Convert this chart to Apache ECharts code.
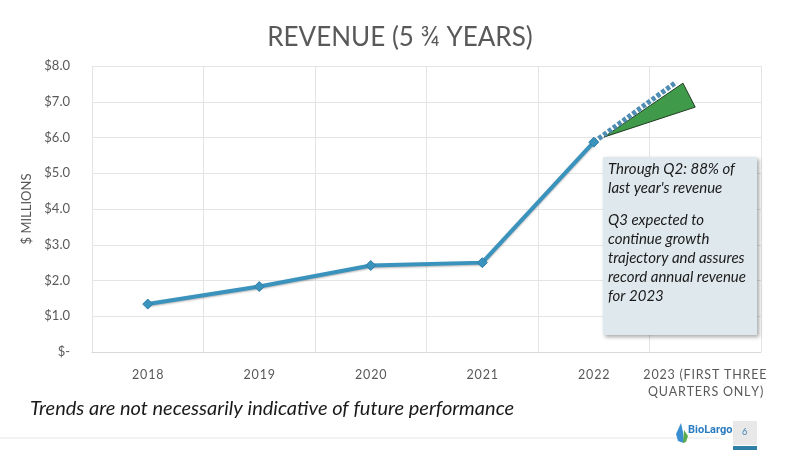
<!DOCTYPE html>
<html>
<head>
<meta charset="utf-8">
<script src="https://cdn.jsdelivr.net/npm/echarts@6/dist/echarts.min.js"></script>
<style>
  html, body { margin: 0; padding: 0; background: #ffffff; }
  #chart { width: 800px; height: 450px; }
</style>
</head>
<body>
<div id="chart"></div>
<script>
// categories and values ($ millions)
const years = ['2018', '2019', '2020', '2021', '2022', '2023 (FIRST THREE\nQUARTERS ONLY)'];
const revenue = [1.34, 1.83, 2.42, 2.50, 5.87];
// projection: dotted line from 2022 into 2023 (x in category index units)
const projection = [[4, 5.87], [4.74, 7.55]];
// green wedge of the projected range
const wedge = [[4.09, 6.01], [4.80, 7.52], [4.91, 6.85]];
const yTicks = [0, 1, 2, 3, 4, 5, 6, 7, 8];

const noteTop = ['Through Q2: 88% of', "last year's revenue"];
const noteBottom = ['Q3 expected to', 'continue growth', 'trajectory and assures', 'record annual revenue', 'for 2023'];

let chart = echarts.init(document.getElementById('chart'));

const labelColor = '#595959';
const lineColor = '#3a93bd';

const option = {
    animation: false,
    title: {
        text: 'REVENUE (5 ¾ YEARS)',
        left: 'center',
        top: 20,
        textStyle: { fontFamily: 'Lato', fontWeight: 'normal', fontSize: 26, color: '#595959' }
    },
    grid: { left: 92, right: 39, top: 66, bottom: 98 },
    xAxis: [{
        type: 'category',
        data: years,
        boundaryGap: true,
        axisLine: { lineStyle: { color: '#d9d9d9' } },
        axisTick: { show: false },
        splitLine: { show: true, lineStyle: { color: '#e4e4e4' } },
        axisLabel: {
            color: labelColor, fontFamily: 'Lato', fontSize: 12.5, margin: 14, lineHeight: 17,
            interval: 0,
            formatter: function (v) { return v.split('').join('\u200A'); }
        }
    }, {
        type: 'value',
        min: -0.5,
        max: 5.5,
        show: false
    }],
    yAxis: {
        type: 'value',
        min: 0,
        max: 8,
        interval: 1,
        name: '$ MILLIONS',
        nameLocation: 'middle',
        nameGap: 42,
        nameTextStyle: { color: labelColor, fontFamily: 'Lato', fontSize: 13 },
        axisLine: { show: false },
        axisTick: { show: false },
        splitLine: { lineStyle: { color: '#e4e4e4' } },
        axisLabel: {
            color: labelColor, fontFamily: 'Lato', fontSize: 13, margin: 22,
            formatter: function (v) { return v === 0 ? '$-' : '$' + v.toFixed(1); }
        }
    },
    series: [{
        type: 'custom',
        xAxisIndex: 1,
        renderItem: function (params, api) {
            let pts = wedge.map(function (p) { return api.coord(p); });
            return {
                type: 'polygon',
                shape: { points: pts },
                style: { fill: '#3f9a4a', stroke: '#1f3b22', lineWidth: 1 }
            };
        },
        data: [0],
        z: 2
    }, {
        type: 'line',
        xAxisIndex: 1,
        data: projection,
        symbol: 'none',
        lineStyle: { color: '#4f8db3', width: 5, type: [4, 2] },
        z: 3
    }, {
        type: 'line',
        data: revenue,
        symbol: 'diamond',
        symbolSize: 10,
        lineStyle: { color: lineColor, width: 4, shadowColor: 'rgba(0,0,0,0.3)', shadowBlur: 2, shadowOffsetY: 1 },
        itemStyle: { color: lineColor, borderColor: '#2f7ea6', borderWidth: 1 },
        z: 4
    }],
    graphic: [{
        type: 'rect',
        shape: { x: 603, y: 157, width: 154, height: 178 },
        style: { fill: '#dfe8ec', shadowColor: 'rgba(0,0,0,0.35)', shadowBlur: 4, shadowOffsetX: 2, shadowOffsetY: 2 },
        z: 10
    }, {
        type: 'text',
        left: 608, top: 160,
        style: { text: noteTop.join('\n'), font: 'italic 15px Lato', fill: '#1a1a1a', lineHeight: 19 },
        z: 11
    }, {
        type: 'text',
        left: 608, top: 211,
        style: { text: noteBottom.join('\n'), font: 'italic 15px Lato', fill: '#1a1a1a', lineHeight: 19 },
        z: 11
    }, {
        type: 'text',
        left: 30, top: 399,
        style: { text: 'Trends are not necessarily indicative of future performance', font: 'italic 20px Lato', fill: '#1a1a1a' }
    }, {
        type: 'line',
        shape: { x1: 0, y1: 438, x2: 722, y2: 438 },
        style: { stroke: '#e6e6e6', lineWidth: 1 }
    }, {
        type: 'polygon',
        shape: { points: [[681, 423], [676, 434], [678, 441], [684, 443], [683, 432]] },
        style: { fill: '#3b8fd0' }
    }, {
        type: 'polygon',
        shape: { points: [[684, 430], [688, 436], [686, 442], [683, 443]] },
        style: { fill: '#5aad4a' }
    }, {
        type: 'text',
        left: 688, top: 425,
        style: { text: 'BioLargo', font: 'bold 11px Roboto', fill: '#2a7bc0' }
    }, {
        type: 'rect',
        shape: { x: 733, y: 421, width: 24, height: 24 },
        style: { fill: '#e8e8e8' }
    }, {
        type: 'rect',
        shape: { x: 733, y: 446, width: 24, height: 4 },
        style: { fill: '#2f7ea6' }
    }, {
        type: 'text',
        left: 742, top: 428,
        style: { text: '6', font: '9px Lato', fill: '#3a80b0' }
    }]
};

chart.setOption(option);
</script>
</body>
</html>
